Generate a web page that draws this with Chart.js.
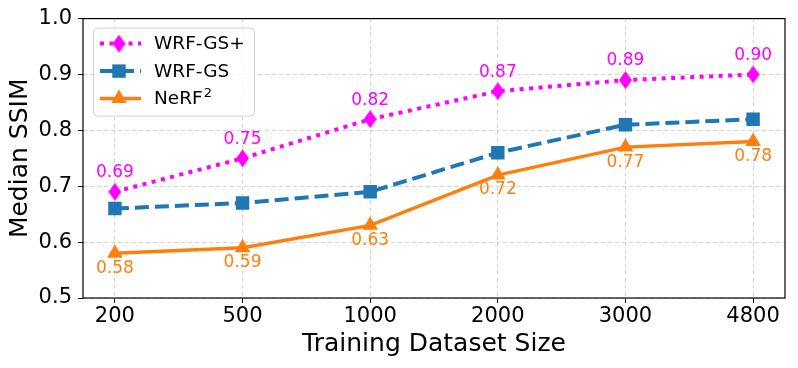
<!DOCTYPE html>
<html>
<head>
<meta charset="utf-8">
<script src="https://cdn.jsdelivr.net/npm/chart.js@4/dist/chart.umd.min.js"></script>
<style>
  html, body { margin: 0; padding: 0; background: #fff; }
  #wrap { width: 798px; height: 368px; }
</style>
</head>
<body>
<div id="wrap"><canvas id="chart" width="798" height="368"></canvas></div>
<script>
// data
var sizes = ['200', '500', '1000', '2000', '3000', '4800']
var wrfGsPlus = [0.69, 0.75, 0.82, 0.87, 0.89, 0.90]
var wrfGs = [0.66, 0.67, 0.69, 0.76, 0.81, 0.82]
var nerf2 = [0.58, 0.59, 0.63, 0.72, 0.77, 0.78]
var yTicks = [0.5, 0.6, 0.7, 0.8, 0.9, 1.0]

var FONT = "'DejaVu Sans', sans-serif"

// thin diamond marker like matplotlib 'd'
function makeDiamond (w, h, color) {
  var c = document.createElement('canvas')
  c.width = w
  c.height = h
  var g = c.getContext('2d')
  g.fillStyle = color
  g.beginPath()
  g.moveTo(w / 2, 0)
  g.lineTo(w, h / 2)
  g.lineTo(w / 2, h)
  g.lineTo(0, h / 2)
  g.closePath()
  g.fill()
  return c
}
var diamond = makeDiamond(13, 18, '#ff00ff')

function toPoints (arr) {
  return arr.map(function (v, i) { return { x: i, y: v } })
}

var frame = {
  id: 'frame',
  afterDatasetsDraw: function (chart) {
    var a = chart.chartArea
    var ctx = chart.ctx
    ctx.save()
    ctx.strokeStyle = '#000'
    ctx.lineWidth = 1.2
    ctx.strokeRect(a.left, a.top, a.right - a.left, a.bottom - a.top)
    ctx.restore()
  }
}

// value labels: above for WRF-GS+, below for NeRF2
var valueLabels = {
  id: 'valueLabels',
  afterDatasetsDraw: function (chart) {
    var ctx = chart.ctx
    ctx.save()
    ctx.font = '17px ' + FONT
    ctx.textAlign = 'center'
    ctx.textBaseline = 'middle'
    var metaTop = chart.getDatasetMeta(0)
    ctx.fillStyle = '#ff00ff'
    metaTop.data.forEach(function (p, i) {
      ctx.fillText(wrfGsPlus[i].toFixed(2), p.x, p.y - 19)
    })
    var metaBot = chart.getDatasetMeta(2)
    ctx.fillStyle = '#ff7f0e'
    metaBot.data.forEach(function (p, i) {
      ctx.fillText(nerf2[i].toFixed(2), p.x, p.y + 15)
    })
    ctx.restore()
  }
}

// matplotlib-like legend in the upper left corner of the plot
var boxLegend = {
  id: 'boxLegend',
  afterDraw: function (chart) {
    var a = chart.chartArea
    var ctx = chart.ctx
    var x = a.left + 10, y = a.top + 9, w = 161, h = 88
    ctx.save()
    ctx.fillStyle = 'rgba(255,255,255,0.8)'
    ctx.strokeStyle = '#d0d0d0'
    ctx.lineWidth = 1
    ctx.beginPath()
    ctx.roundRect(x + 0.5, y + 0.5, w, h, 4)
    ctx.fill()
    ctx.stroke()
    var items = [
      { ds: chart.data.datasets[0], label: 'WRF-GS+' },
      { ds: chart.data.datasets[1], label: 'WRF-GS' },
      { ds: chart.data.datasets[2], label: 'NeRF', sup: '2' }
    ]
    items.forEach(function (it, i) {
      var cy = y + 16 + i * 27.5
      var ds = it.ds
      ctx.strokeStyle = ds.borderColor
      ctx.lineWidth = ds.borderWidth
      ctx.setLineDash(ds.borderDash || [])
      ctx.beginPath()
      ctx.moveTo(x + 7, cy)
      ctx.lineTo(x + 48, cy)
      ctx.stroke()
      ctx.setLineDash([])
      ctx.fillStyle = ds.backgroundColor
      Chart.helpers.drawPoint(ctx, {
        pointStyle: ds.pointStyle,
        radius: ds.pointRadius,
        borderWidth: 0
      }, x + 26, cy)
      ctx.fillStyle = '#000'
      ctx.font = '18.5px ' + FONT
      ctx.textBaseline = 'middle'
      ctx.textAlign = 'left'
      ctx.fillText(it.label, x + 61, cy + 1)
      if (it.sup) {
        var tw = ctx.measureText(it.label).width
        ctx.font = '13px ' + FONT
        ctx.fillText(it.sup, x + 62 + tw, cy - 5)
      }
    })
    ctx.restore()
  }
}

new Chart(document.getElementById('chart'), {
  type: 'line',
  data: {
    datasets: [
      {
        label: 'WRF-GS+',
        data: toPoints(wrfGsPlus),
        borderColor: '#ff00ff',
        backgroundColor: '#ff00ff',
        borderWidth: 4,
        borderDash: [4, 5.5],
        pointStyle: diamond,
        pointRadius: 9,
        tension: 0
      },
      {
        label: 'WRF-GS',
        data: toPoints(wrfGs),
        borderColor: '#1f77b4',
        backgroundColor: '#1f77b4',
        borderWidth: 4,
        borderDash: [14, 6],
        pointStyle: 'rect',
        pointRadius: 9.5,
        pointBorderWidth: 0,
        tension: 0
      },
      {
        label: 'NeRF\u00b2',
        data: toPoints(nerf2),
        borderColor: '#ff7f0e',
        backgroundColor: '#ff7f0e',
        borderWidth: 3.5,
        pointStyle: 'triangle',
        pointRadius: 9,
        pointBorderWidth: 0,
        tension: 0
      }
    ]
  },
  options: {
    responsive: false,
    animation: false,
    layout: { padding: { top: 18, right: 11, left: 0, bottom: 0 } },
    plugins: {
      legend: { display: false },
      tooltip: { enabled: false }
    },
    scales: {
      x: {
        type: 'linear',
        min: -0.25,
        max: 5.25,
        afterBuildTicks: function (axis) {
          axis.ticks = sizes.map(function (s, i) { return { value: i } })
        },
        afterFit: function (axis) { axis.height = 70 },
        ticks: {
          color: '#000',
          font: { family: FONT, size: 21 },
          padding: 1,
          autoSkip: false,
          maxRotation: 0,
          callback: function (v) { return sizes[v] }
        },
        grid: {
          color: '#d3d3d3',
          lineWidth: 1,
          tickColor: '#000',
          tickLength: 5,
          tickBorderDash: [],
          drawTicks: true
        },
        border: { display: false, dash: [4, 3] },
        title: {
          display: true,
          text: 'Training Dataset Size',
          color: '#000',
          font: { family: FONT, size: 25 },
          padding: { top: 0, bottom: 9 }
        }
      },
      y: {
        min: 0.5,
        max: 1.0,
        afterBuildTicks: function (axis) {
          axis.ticks = yTicks.map(function (v) { return { value: v } })
        },
        afterFit: function (axis) { axis.width = 83 },
        ticks: {
          color: '#000',
          font: { family: FONT, size: 21 },
          padding: 6,
          callback: function (v) { return v.toFixed(1) }
        },
        grid: {
          color: '#d3d3d3',
          lineWidth: 1,
          tickColor: '#000',
          tickLength: 5,
          tickBorderDash: []
        },
        border: { display: false, dash: [4, 3] },
        title: {
          display: true,
          text: 'Median SSIM',
          color: '#000',
          font: { family: FONT, size: 25 },
          padding: { top: 5, bottom: 0 }
        }
      }
    }
  },
  plugins: [frame, valueLabels, boxLegend]
})
</script>
</body>
</html>
